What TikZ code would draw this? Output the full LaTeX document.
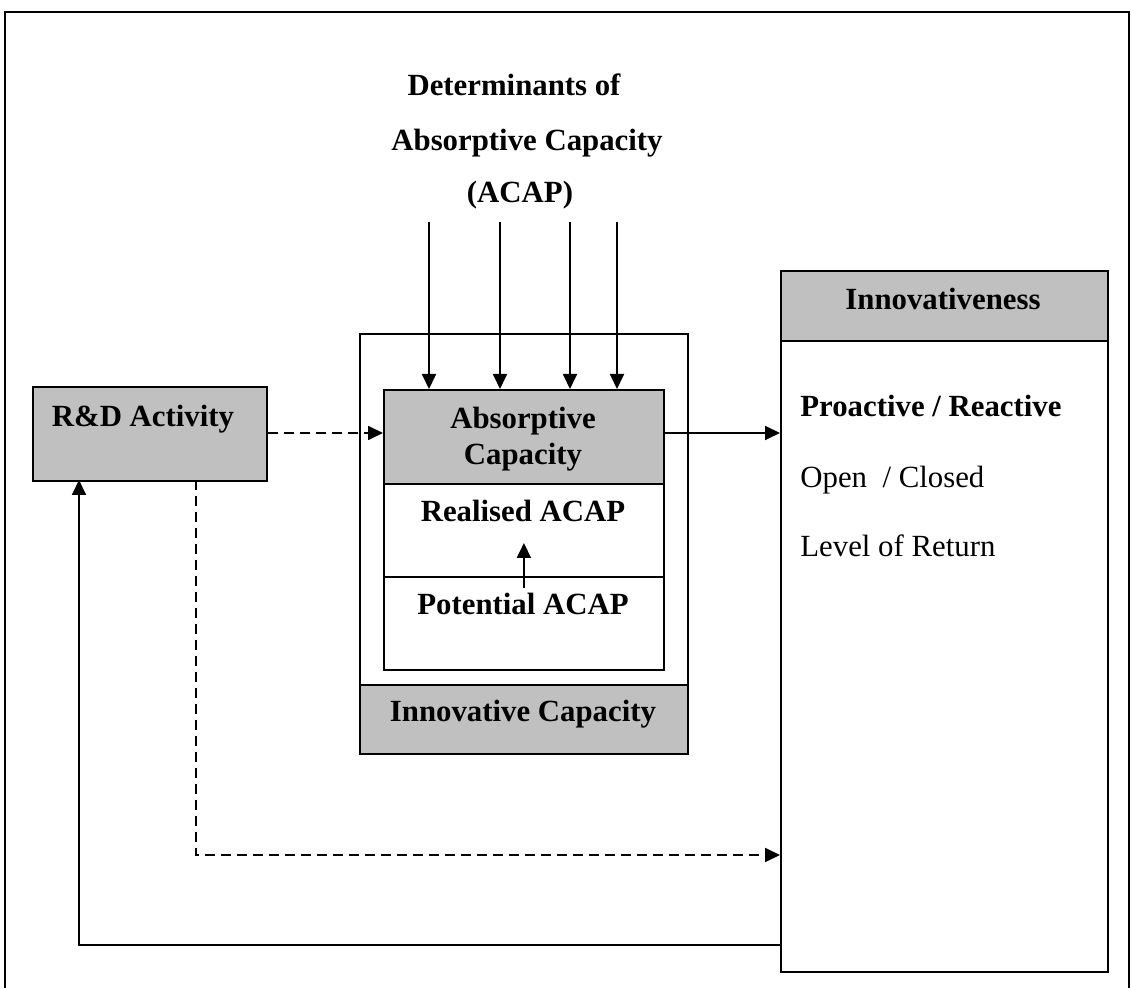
\documentclass[tikz,border=0pt]{standalone}
\usepackage{fontspec}
\setmainfont{Liberation Serif}
\usetikzlibrary{arrows.meta, positioning, calc}
\definecolor{boxgray}{HTML}{C0C0C0}

\begin{document}
\begin{tikzpicture}[
  x=0.5pt, y=-0.5pt,
  font=\fontsize{15.4}{18}\selectfont,
  box/.style={draw, line width=0.9pt, inner sep=0pt, anchor=north west, fill=white},
  graybox/.style={box, fill=boxgray},
  head/.style={font=\fontsize{15.4}{18}\selectfont\bfseries, inner sep=0pt},
  item/.style={inner sep=0pt, anchor=base west},
  arr/.style={-{Triangle[length=7.5pt, width=7pt]}, line width=0.9pt},
  dasharr/.style={arr, dash pattern=on 5pt off 3pt},
]
\useasboundingbox (0,0) rectangle (1131,988);

% --- outer frame (open at the bottom) ---
\draw[line width=0.9pt] (5,988) -- (5,12) -- (1129,12) -- (1129,988);

% --- determinants title ---
\node[head, anchor=base] (det1) at (514,96) {Determinants of};
\node[head, anchor=base] (det2) at (527,151) {Absorptive Capacity};
\node[head, anchor=base] (det3) at (520,203) {(ACAP)};

% --- R&D activity ---
\node[graybox, minimum width=117pt, minimum height=47pt] (rd) at (32,386) {};
\node[head, anchor=base] (rdlbl) at (143,427) {R\&D Activity};

% --- innovative capacity with absorptive capacity inside ---
\node[box, minimum width=164pt, minimum height=210pt] (icap) at (359,333) {};
\node[graybox, minimum width=164pt, minimum height=34.5pt] (icaplbl) at (359,684) {};
\node[head, anchor=base] at (523,722) {Innovative Capacity};

\node[graybox, minimum width=140pt, minimum height=47pt] (absorb) at (383,389) {};
\node[head, align=center] at (523,439) {Absorptive\\Capacity};
\node[box, minimum width=140pt, minimum height=46.5pt] (realised) at (383,483) {};
\node[head, anchor=base] at (523,522) {Realised ACAP};
\node[box, minimum width=140pt, minimum height=46.5pt] (potential) at (383,576) {};
\node[head, anchor=base] at (523,615) {Potential ACAP};

% --- innovativeness ---
\node[box, minimum width=163.5pt, minimum height=350.5pt] (innov) at (780,270) {};
\node[graybox, minimum width=163.5pt, minimum height=35pt] (innovhd) at (780,270) {};
\node[head, anchor=base] at (943,310) {Innovativeness};
\node[item, font=\fontsize{15.4}{18}\selectfont\bfseries] (pro) at (800,417) {Proactive / Reactive};
\node[item] (open) at (800,488) {Open~~/ Closed};
\node[item] (ret) at (800,557) {Level of Return};

% --- determinants feeding absorptive capacity ---
\foreach \dx in {429,500,570,617}
  \draw[arr] (\dx,222) -- (absorb.north -| \dx,0);

% --- potential to realised ---
\draw[arr] ($(potential.north)+(0,12)$) -- ($(realised.north)+(0,60)$);

% --- main flows ---
\draw[dasharr] (rd.east |- 0,433) -- (absorb.west |- 0,433);
\draw[arr] (absorb.east |- 0,433) -- (innov.west |- 0,433);
\draw[dasharr] (196,480) |- (innov.west |- 0,855);
\draw[arr] (innov.west |- 0,945) -| (79,480);

\end{tikzpicture}
\end{document}
